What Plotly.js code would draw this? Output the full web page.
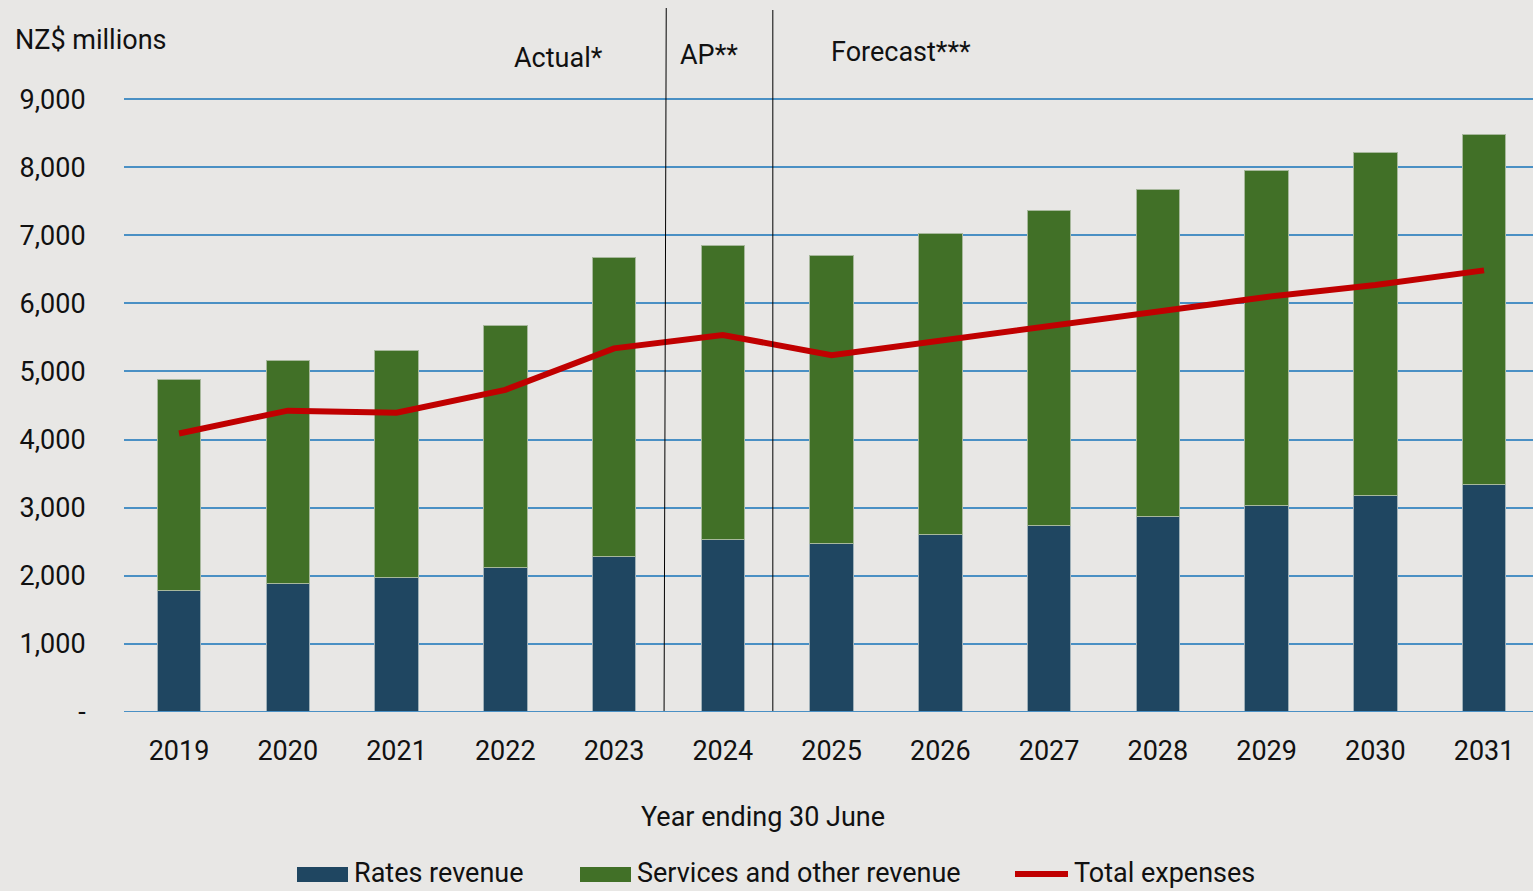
<!DOCTYPE html>
<html>
<head>
<meta charset="utf-8">
<script src="https://cdn.plot.ly/plotly-3.0.1.min.js"></script>
<style>
html,body{margin:0;padding:0;background:#e8e7e5;}
#chart{width:1533px;height:891px;}
</style>
</head>
<body>
<div id="chart"></div>
<script>
const years = ['2019','2020','2021','2022','2023','2024','2025','2026','2027','2028','2029','2030','2031'];
const ratesRevenue = [1790, 1880, 1980, 2125, 2285, 2530, 2475, 2610, 2740, 2875, 3030, 3180, 3345];
const servicesRevenue = [3090, 3285, 3330, 3550, 4385, 4315, 4235, 4420, 4625, 4795, 4925, 5040, 5140];
const totalExpenses = [4090, 4425, 4395, 4730, 5340, 5535, 5240, 5450, 5660, 5865, 6095, 6270, 6485];
const yTickVals = [0, 1000, 2000, 3000, 4000, 5000, 6000, 7000, 8000, 9000];
const yTickText = ['-', '1,000', '2,000', '3,000', '4,000', '5,000', '6,000', '7,000', '8,000', '9,000'];
const legendNames = ['Rates revenue', 'Services and other revenue', 'Total expenses'];
const colors = ['#1f4661', '#417027', '#c00000'];

const FONT = 'Roboto, "Open Sans", sans-serif';
const TXT = '#111111';

const traces = [
  {type:'bar', name:legendNames[0], x:years, y:ratesRevenue, width:0.4, showlegend:false,
   marker:{color:colors[0], line:{color:'#9fb0b8', width:1}}},
  {type:'bar', name:legendNames[1], x:years, y:servicesRevenue, width:0.4, showlegend:false,
   marker:{color:colors[1], line:{color:'#a7b89c', width:1}}},
  {type:'scatter', mode:'lines', name:legendNames[2], x:years, y:totalExpenses, showlegend:false,
   line:{color:colors[2], width:6}}
];

// pixel helpers for plot area (l=124, w=1409, bottom=712, top=96, h=616)
const px = v => (v - 124) / 1409;
const py = v => (712 - v) / 616;

const layout = {
  width:1533, height:891,
  paper_bgcolor:'#e8e7e5', plot_bgcolor:'#e8e7e5',
  margin:{l:124, r:0, t:96, b:179, autoexpand:false},
  barmode:'stack',
  font:{family:FONT, color:TXT, size:27},
  xaxis:{type:'category', range:[-0.506, 12.45], showgrid:false, zeroline:false,
    showline:false, ticks:'outside', ticklen:15, tickcolor:'rgba(0,0,0,0)',
    tickfont:{size:27, color:TXT}},
  yaxis:{range:[0, 9045], tickvals:yTickVals, ticktext:yTickText,
    showgrid:true, gridcolor:'#4a90c4', gridwidth:2, zeroline:false,
    showline:false, ticks:'outside', ticklen:32, tickcolor:'rgba(0,0,0,0)',
    tickfont:{size:27, color:TXT}},
  showlegend:false,
  shapes:[
    {type:'line', xref:'x', yref:'paper', x0:4.46, x1:4.48, y0:0, y1:py(8),
     line:{color:'#000000', width:1}},
    {type:'line', xref:'x', yref:'paper', x0:5.46, x1:5.46, y0:0, y1:py(10),
     line:{color:'#000000', width:1}},
    {type:'line', xref:'paper', yref:'y', x0:0, x1:1, y0:0, y1:0,
     line:{color:'#4a90c4', width:2}},
    // legend swatches
    {type:'rect', xref:'paper', yref:'paper', x0:px(297), x1:px(348), y0:py(882), y1:py(867),
     fillcolor:colors[0], line:{width:0}},
    {type:'rect', xref:'paper', yref:'paper', x0:px(580), x1:px(631), y0:py(882), y1:py(867),
     fillcolor:colors[1], line:{width:0}},
    {type:'line', xref:'paper', yref:'paper', x0:px(1015), x1:px(1068), y0:py(874), y1:py(874),
     line:{color:colors[2], width:6}}
  ],
  annotations:[
    {xref:'paper', yref:'paper', x:px(13), y:py(40), xanchor:'left', yanchor:'middle',
     text:'NZ$ millions', showarrow:false, font:{size:27, color:TXT}},
    {xref:'paper', yref:'paper', x:px(558), y:py(58), xanchor:'center', yanchor:'middle',
     text:'Actual*', showarrow:false, font:{size:27, color:TXT}},
    {xref:'paper', yref:'paper', x:px(678), y:py(55), xanchor:'left', yanchor:'middle',
     text:'AP**', showarrow:false, font:{size:27, color:TXT}},
    {xref:'paper', yref:'paper', x:px(829), y:py(52), xanchor:'left', yanchor:'middle',
     text:'Forecast***', showarrow:false, font:{size:27, color:TXT}},
    {xref:'paper', yref:'paper', x:px(763), y:py(817), xanchor:'center', yanchor:'middle',
     text:'Year ending 30 June', showarrow:false, font:{size:27, color:TXT}},
    {xref:'paper', yref:'paper', x:px(352), y:py(873), xanchor:'left', yanchor:'middle',
     text:legendNames[0], showarrow:false, font:{size:27, color:TXT}},
    {xref:'paper', yref:'paper', x:px(635), y:py(873), xanchor:'left', yanchor:'middle',
     text:legendNames[1], showarrow:false, font:{size:27, color:TXT}},
    {xref:'paper', yref:'paper', x:px(1072), y:py(873), xanchor:'left', yanchor:'middle',
     text:legendNames[2], showarrow:false, font:{size:27, color:TXT}}
  ]
};

Plotly.newPlot('chart', traces, layout, {displayModeBar:false, staticPlot:true});
</script>
</body>
</html>
